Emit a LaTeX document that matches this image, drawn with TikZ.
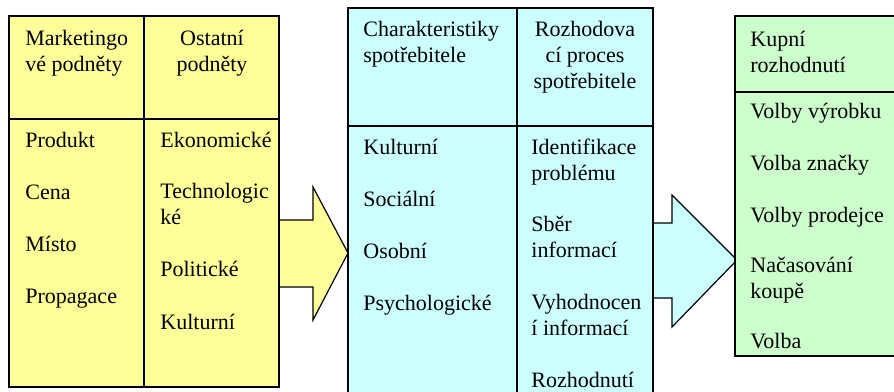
\documentclass[tikz,border=0pt]{standalone}
\usepackage{fontspec}
\setmainfont{Liberation Serif}
\definecolor{stimyellow}{RGB}{255,255,153}
\definecolor{buyercyan}{RGB}{204,255,255}
\definecolor{responsegreen}{RGB}{204,255,204}
\begin{document}
\begin{tikzpicture}[x=0.5pt,y=-0.5pt,
	  box/.style={draw, line width=1pt},
	  bigarrow/.style={draw, line width=0.6pt, line join=miter},
	  txt/.style={anchor=base west, inner sep=0pt, align=left, font=\fontsize{11}{12.8}\selectfont},
	  ctxt/.style={anchor=base, inner sep=0pt, align=center, font=\fontsize{11}{12.8}\selectfont}]
	  \useasboundingbox (0,0) rectangle (894,391);
	  \clip (0,0) rectangle (894,391);

	  % arrows between the blocks
	  \filldraw [bigarrow, fill=stimyellow] (279,220)--(313,220)--(313,187)--(348,253)--(313,320)--(313,287)--(279,287)--cycle;
	  \filldraw [bigarrow, fill=buyercyan] (653,223)--(672,223)--(672,195)--(737,260)--(672,327)--(672,298)--(653,298)--cycle;

	  % stimuli (multi-line nodes sit on their last baseline)
	  \filldraw [box, fill=stimyellow] (9,16) rectangle (279,387);
	  \draw [box] (9,119)--(279,119);
	  \draw [box] (144,16)--(144,387);

	  \node [txt] (mkt) at (25,71) {Marketingo\\vé podněty};
	  \node [ctxt] (ost) at (212,71) {Ostatní\\podněty};

	  \node [txt] (prod) at (25,147) {Produkt};
	  \node [txt] (cena) at (25,199) {Cena};
	  \node [txt] (misto) at (25,251) {Místo};
	  \node [txt] (prop) at (25,303) {Propagace};

	  \node [txt] (ekon) at (160,147) {Ekonomické};
	  \node [txt] (tech) at (160,224) {Technologic\\ké};
	  \node [txt] (polit) at (160,276) {Politické};
	  \node [txt] (kult) at (160,329) {Kulturní};

	  % buyer
	  \filldraw [box, fill=buyercyan] (348,8) rectangle (653,400);
	  \draw [box] (348,126)--(653,126);
	  \draw [box] (517,8)--(517,400);

	  \node [txt] (char) at (363,62) {Charakteristiky\\spotřebitele};
	  \node [ctxt] (proc) at (585,88) {Rozhodova\\cí proces\\spotřebitele};

	  \node [txt] (kultb) at (363,154) {Kulturní};
	  \node [txt] (soc) at (363,206) {Sociální};
	  \node [txt] (osob) at (363,258) {Osobní};
	  \node [txt] (psych) at (363,310) {Psychologické};

	  \node [txt] (ident) at (531,180) {Identifikace\\problému};
	  \node [txt] (sber) at (531,257) {Sběr\\informací};
	  \node [txt] (vyhod) at (531,335) {Vyhodnocen\\í informací};
	  \node [txt] (rozh) at (531,387) {Rozhodnutí};

	  % response
	  \filldraw [box, fill=responsegreen] (735,16) rectangle (900,356);
	  \draw [box] (735,92)--(900,92);

	  \node [txt] (kupni) at (750,72) {Kupní\\rozhodnutí};
	  \node [txt] (vyr) at (750,118) {Volby výrobku};
	  \node [txt] (znacka) at (750,170) {Volba značky};
	  \node [txt] (prodej) at (750,222) {Volby prodejce};
	  \node [txt] (nacas) at (750,298) {Načasování\\koupě};
	  \node [txt] (volba) at (750,348) {Volba};

\end{tikzpicture}
\end{document}
